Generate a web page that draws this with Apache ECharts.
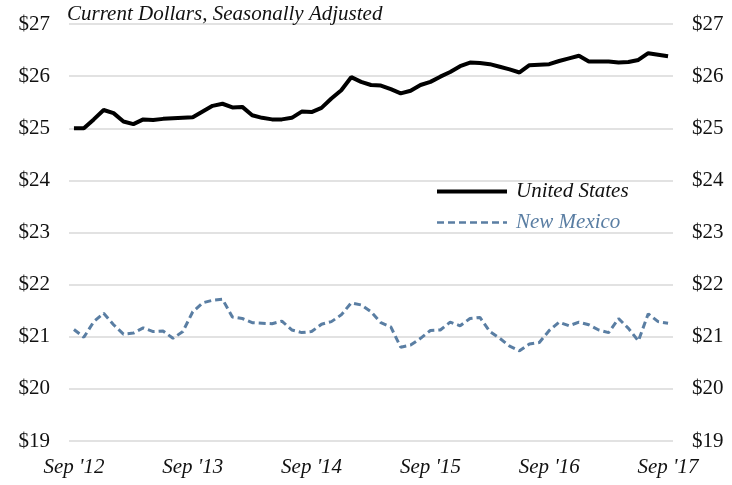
<!DOCTYPE html>
<html>
<head>
<meta charset="utf-8">
<script src="https://cdn.jsdelivr.net/npm/echarts@6/dist/echarts.min.js"></script>
<style>html,body{margin:0;padding:0;background:#fff;}#c{width:732px;height:485px;}</style>
</head>
<body>
<div id="c"></div>
<script>
var months = ["Sep '12","Oct '12","Nov '12","Dec '12","Jan '13","Feb '13","Mar '13","Apr '13","May '13","Jun '13","Jul '13","Aug '13",
"Sep '13","Oct '13","Nov '13","Dec '13","Jan '14","Feb '14","Mar '14","Apr '14","May '14","Jun '14","Jul '14","Aug '14",
"Sep '14","Oct '14","Nov '14","Dec '14","Jan '15","Feb '15","Mar '15","Apr '15","May '15","Jun '15","Jul '15","Aug '15",
"Sep '15","Oct '15","Nov '15","Dec '15","Jan '16","Feb '16","Mar '16","Apr '16","May '16","Jun '16","Jul '16","Aug '16",
"Sep '16","Oct '16","Nov '16","Dec '16","Jan '17","Feb '17","Mar '17","Apr '17","May '17","Jun '17","Jul '17","Aug '17",
"Sep '17"];
var unitedStates = [25.00,25.00,25.17,25.35,25.29,25.13,25.08,25.17,25.16,25.18,25.19,25.20,
25.21,25.32,25.43,25.47,25.40,25.41,25.25,25.20,25.17,25.17,25.20,25.32,
25.31,25.39,25.57,25.73,25.98,25.89,25.83,25.82,25.75,25.67,25.72,25.83,
25.89,25.99,26.08,26.19,26.26,26.25,26.23,26.18,26.13,26.07,26.21,26.22,
26.23,26.29,26.34,26.39,26.28,26.28,26.28,26.26,26.27,26.31,26.44,26.41,
26.38];
var newMexico = [21.14,20.99,21.29,21.45,21.23,21.05,21.07,21.17,21.10,21.11,20.97,21.10,
21.48,21.65,21.70,21.72,21.38,21.35,21.27,21.26,21.25,21.30,21.13,21.08,
21.10,21.24,21.29,21.42,21.65,21.61,21.48,21.27,21.19,20.80,20.84,20.97,
21.12,21.13,21.28,21.21,21.35,21.37,21.10,20.97,20.82,20.73,20.86,20.89,
21.12,21.28,21.21,21.28,21.23,21.13,21.08,21.35,21.16,20.92,21.44,21.29,
21.26];
var yTicks = {min: 19, max: 27, interval: 1};
var titleText = "Current Dollars, Seasonally Adjusted";

var font = "'Liberation Serif', 'DejaVu Serif', serif";
var nmColor = '#5a7ea3';
var chart = echarts.init(document.getElementById('c'), null, {renderer: 'canvas'});
function yAxisDef(pos) {
  return {
    type: 'value', position: pos, min: yTicks.min, max: yTicks.max, interval: yTicks.interval,
    axisLine: {show: false}, axisTick: {show: false},
    splitLine: {show: pos === 'left', lineStyle: {color: '#d9d9d9', width: 1.5}},
    axisLabel: {margin: 19, color: '#111', fontFamily: font, fontSize: 21,
      formatter: function (v) { return '$' + v; }}
  };
}
chart.setOption({
  animation: false,
  backgroundColor: '#fff',
  title: {text: titleText, left: 62, top: -1,
    textStyle: {fontFamily: font, fontStyle: 'italic', fontWeight: 'normal', fontSize: 21, color: '#111'}},
  grid: {left: 69, right: 59, top: 24, bottom: 44, containLabel: false},
  legend: {
    orient: 'vertical', left: 430, top: 176, itemWidth: 70, itemHeight: 14, itemGap: 10,
    itemStyle: {opacity: 0},
    data: [
      {name: 'United States', textStyle: {color: '#111'}, lineStyle: {width: 4, color: '#000'}},
      {name: 'New Mexico', textStyle: {color: nmColor}, lineStyle: {width: 2.5, color: nmColor, type: [7, 4]}}
    ],
    textStyle: {fontFamily: font, fontStyle: 'italic', fontSize: 21, padding: [0,0,0,4]}
  },
  xAxis: {
    type: 'category', data: months, boundaryGap: true,
    axisLine: {show: false}, axisTick: {show: false},
    axisLabel: {interval: 0, margin: 16, color: '#111', fontFamily: font, fontStyle: 'italic', fontSize: 21,
      formatter: function (v, i) { return i % 12 === 0 ? v : ''; }}
  },
  yAxis: [yAxisDef('left'), yAxisDef('right')],
  series: [
    {name: 'United States', type: 'line', data: unitedStates, symbol: 'none', yAxisIndex: 0,
      lineStyle: {color: '#000', width: 4}, itemStyle: {color: '#000'}},
    {name: 'New Mexico', type: 'line', data: newMexico, symbol: 'none', yAxisIndex: 0,
      lineStyle: {color: nmColor, width: 3, type: [7, 4]}, itemStyle: {color: nmColor}}
  ]
});
</script>
</body>
</html>
